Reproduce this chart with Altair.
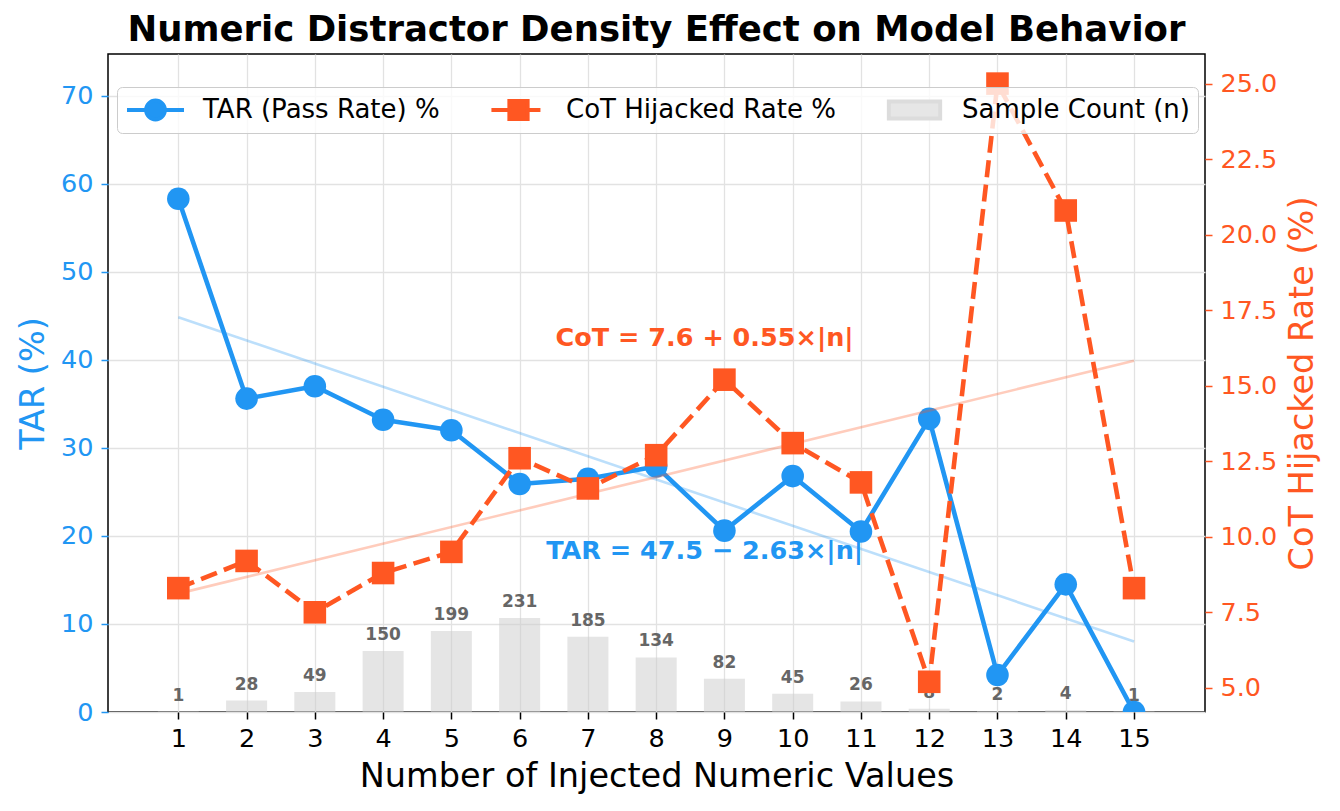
import altair as alt
import pandas as pd

# ---- data ----
n_values = list(range(1, 16))
tar_rate = [58.3, 35.6, 37.0, 33.2, 32.0, 25.9, 26.5, 27.9, 20.6, 26.8, 20.5, 33.3, 4.2, 14.5, 0.0]
cot_rate = [8.3, 9.2, 7.5, 8.8, 9.5, 12.6, 11.6, 12.7, 15.2, 13.1, 11.8, 5.2, 25.0, 20.8, 8.3]
sample_n = [1, 28, 49, 150, 199, 231, 185, 134, 82, 45, 26, 8, 2, 4, 1]
series_names = ["TAR (Pass Rate) %", "CoT Hijacked Rate %", "Sample Count (n)"]
tar_eq = ["TAR = 47.5 \u2212 2.63\u00d7|n|"]
cot_eq = ["CoT = 7.6 + 0.55\u00d7|n|"]
x_ticks = list(range(1, 16))
tar_ticks = [0, 10, 20, 30, 40, 50, 60, 70]
cot_ticks = [5.0, 7.5, 10.0, 12.5, 15.0, 17.5, 20.0, 22.5, 25.0]

BLUE = "#2196F3"
ORANGE = "#FF5722"
FONT = "DejaVu Sans"

df = pd.DataFrame({"x": n_values, "tar": tar_rate, "cot": cot_rate, "n": sample_n})

x_scale = alt.Scale(domain=[-0.03, 16.04], nice=False, zero=False, padding=0)
x_axis = alt.Axis(values=x_ticks, title="Number of Injected Numeric Values", labelFontSize=25.5,
                  titleFontSize=33.5, labelPadding=7, titlePadding=9, tickColor="black",
                  labelColor="black", titleColor="black", grid=True, labelFlush=False, format="d")
X = alt.X("x:Q", scale=x_scale, axis=x_axis)

tar_scale = alt.Scale(domain=[0, 74.75], nice=False, zero=False, padding=0)
tar_axis = alt.Axis(values=tar_ticks, title="TAR (%)", format="d", labelColor=BLUE, tickColor=BLUE,
                    titleColor=BLUE, labelFontSize=25.5, titleFontSize=33.5, labelPadding=8,
                    titlePadding=10, grid=True, orient="left")
cot_scale = alt.Scale(domain=[4.2, 25.98], nice=False, zero=False, padding=0)
cot_axis = alt.Axis(values=cot_ticks, title="CoT Hijacked Rate (%)", format=".1f", labelColor=ORANGE,
                    tickColor=ORANGE, titleColor=ORANGE, labelFontSize=25.5, titleFontSize=33.5,
                    labelPadding=8, titlePadding=10, grid=False, orient="right",
                    titleAngle=270, titleBaseline="top")
bar_scale = alt.Scale(domain=[0, 1617], nice=False, zero=True, padding=0)

# ---- bars with counts ----
bars = alt.Chart(df).mark_bar(size=41, color="#cccccc", opacity=0.5, clip=True).encode(
    x=X, y=alt.Y("n:Q", scale=bar_scale, axis=None)
)
bar_labels = alt.Chart(df).mark_text(
    fontSize=17, fontWeight="bold", color="#666666", font=FONT, baseline="alphabetic", dy=-11
).encode(x=X, y=alt.Y("n:Q", scale=bar_scale, axis=None), text="n:Q")
bar_layer = alt.layer(bars, bar_labels)

# ---- TAR ----
tar_y = alt.Y("tar:Q", scale=tar_scale, axis=tar_axis)
tar_trend = alt.Chart(df).transform_regression("x", "tar", extent=[1, 15]).mark_line(
    color=BLUE, opacity=0.3, strokeWidth=2.6
).encode(x=X, y=tar_y)
tar_line = alt.Chart(df).mark_line(color=BLUE, strokeWidth=4.6, clip=True, strokeJoin="round").encode(x=X, y=tar_y)
tar_pts = alt.Chart(df).mark_point(filled=True, color=BLUE, size=510, opacity=1, shape="circle", clip=True).encode(x=X, y=tar_y)
tar_txt = alt.Chart(pd.DataFrame({"label": tar_eq})).mark_text(
    fontSize=25.5, fontWeight="bold", color=BLUE, font=FONT, align="center", baseline="middle"
).encode(
    x=alt.X(datum=8.71, type="quantitative", scale=x_scale, axis=x_axis),
    y=alt.Y(datum=18.3, type="quantitative", scale=tar_scale, axis=tar_axis),
    text="label:N",
)
tar_layer = alt.layer(tar_trend, tar_line, tar_pts, tar_txt)

# ---- CoT ----
cot_y = alt.Y("cot:Q", scale=cot_scale, axis=cot_axis)
cot_trend = alt.Chart(df).transform_regression("x", "cot", extent=[1, 15]).mark_line(
    color=ORANGE, opacity=0.3, strokeWidth=2.6
).encode(x=X, y=cot_y)
cot_line = alt.Chart(df).mark_line(color=ORANGE, strokeWidth=4.6, strokeDash=[17, 7.5], clip=True).encode(x=X, y=cot_y)
cot_pts = alt.Chart(df).mark_point(filled=True, color=ORANGE, size=510, opacity=1, shape="square", clip=True).encode(x=X, y=cot_y)
cot_txt = alt.Chart(pd.DataFrame({"label": cot_eq})).mark_text(
    fontSize=25.5, fontWeight="bold", color=ORANGE, font=FONT, align="center", baseline="middle"
).encode(
    x=alt.X(datum=8.71, type="quantitative", scale=x_scale, axis=x_axis),
    y=alt.Y(datum=16.57, type="quantitative", scale=cot_scale, axis=cot_axis),
    text="label:N",
)
cot_layer = alt.layer(cot_trend, cot_line, cot_pts, cot_txt)

# ---- legend (native legend, custom symbols) ----
sym_paths = [
    "M-1,0H1M0.33,0A0.33,0.33,0,1,1,-0.33,0A0.33,0.33,0,1,1,0.33,0Z",
    "M-0.95,0H-0.33M0.33,0H0.77M-0.32,-0.32H0.32V0.32H-0.32Z",
    "M-0.9,-0.3H0.9V0.3H-0.9Z",
]
leg = alt.Legend(
    title=None, orient="none", legendX=9, legendY=33, direction="horizontal", columns=3,
    symbolSize=3249, symbolStrokeWidth=4, symbolOpacity=1, labelFontSize=26, labelFont=FONT,
    labelColor="black", labelOffset=17, columnPadding=48, padding=8, labelLimit=500,
    fillColor="rgba(255,255,255,0.8)", strokeColor="#cccccc", cornerRadius=5, clipHeight=30,
    zindex=2,
)
legend_layer = alt.Chart(pd.DataFrame({"series": series_names})).mark_point(filled=True, opacity=0).encode(
    fill=alt.Fill("series:N", scale=alt.Scale(domain=series_names, range=[BLUE, ORANGE, "#e6e6e6"]), legend=leg),
    stroke=alt.Stroke("series:N", scale=alt.Scale(domain=series_names, range=[BLUE, ORANGE, "#dcdcdc"]), legend=leg),
    shape=alt.Shape("series:N", scale=alt.Scale(domain=series_names, range=sym_paths), legend=leg),
)

chart = alt.layer(bar_layer, tar_layer, cot_layer, legend_layer).resolve_scale(
    y="independent"
).properties(
    width=1097, height=658,
    padding={"left": 100, "top": 46, "right": 127, "bottom": 88},
    autosize=alt.AutoSizeParams(type="none"),
    title=alt.TitleParams("Numeric Distractor Density Effect on Model Behavior", fontSize=35.5,
                          fontWeight="bold", font=FONT, anchor="middle", offset=6, color="black"),
).configure_view(
    stroke="black", strokeWidth=1.5
).configure_axis(
    labelFont=FONT, titleFont=FONT, domain=False, tickWidth=1.5, tickSize=7,
    gridColor="#e2e2e2", gridWidth=1.3, titleFontWeight="normal"
)

chart.save("out.html", embed_options={"renderer": "svg", "actions": False})
